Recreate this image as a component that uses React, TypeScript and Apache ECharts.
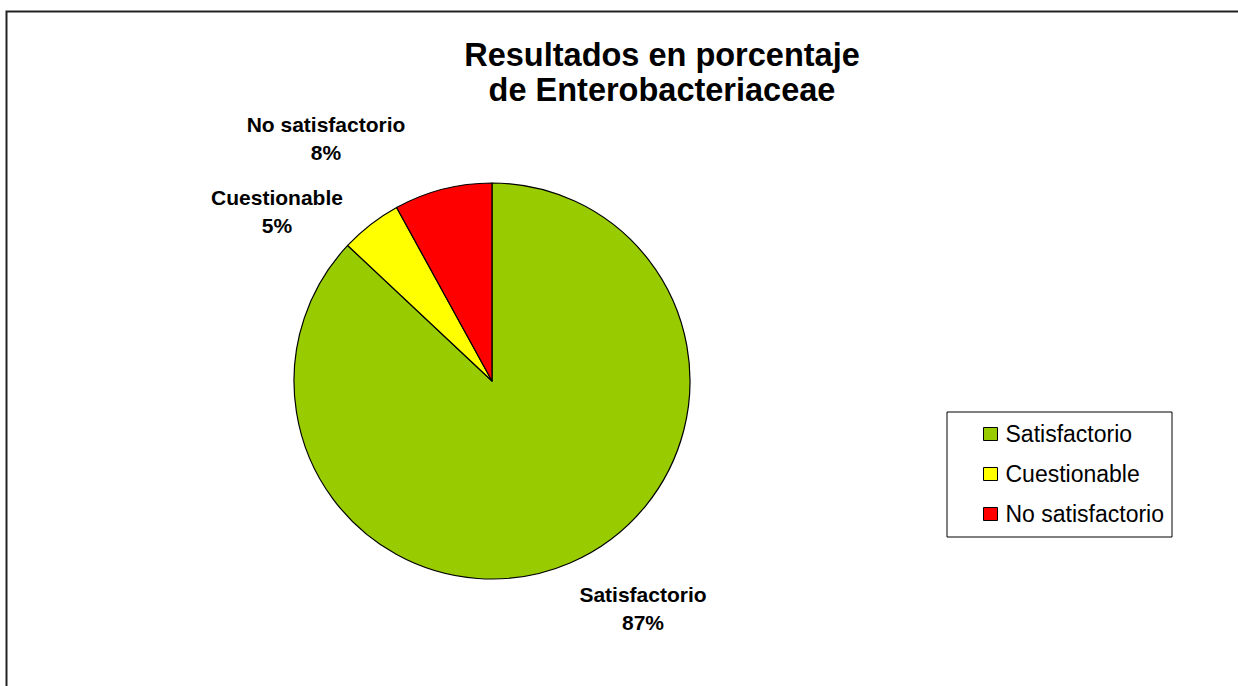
import React, { useEffect, useRef } from "react";
import * as echarts from "echarts";

const categories = ["Satisfactorio", "Cuestionable", "No satisfactorio"];
const values = [87, 5, 8];
const colors = ["#99CC00", "#FFFF00", "#FF0000"];
const titleLines = ["Resultados en porcentaje", "de Enterobacteriaceae"];

export default function App() {
  const ref = useRef<HTMLDivElement>(null);
  useEffect(() => {
    if (!ref.current) return;
    const chart = echarts.init(ref.current, null, { renderer: "svg" });
    const font = "'Liberation Sans', Arial, sans-serif";
    const labelPos: Record<number, [number, number]> = {
      0: [643, 608],
      1: [277, 211],
      2: [326, 138],
    };
    chart.setOption({
      animation: false,
      backgroundColor: "#ffffff",
      title: {
        text: titleLines.join("\n"),
        left: 657,
        top: 32,
        textAlign: "center",
        textStyle: {
          fontFamily: font,
          fontWeight: "bold",
          fontSize: 32.5,
          lineHeight: 35,
          color: "#000",
        },
      },
      legend: {
        orient: "vertical",
        left: 947,
        top: 412,
        padding: [10, 8, 11, 36],
        itemGap: 16,
        itemWidth: 14,
        itemHeight: 13,
        icon: "rect",
        borderColor: "#000",
        borderWidth: 1,
        borderRadius: 0,
        data: categories,
        itemStyle: { borderColor: "#000", borderWidth: 1 },
        textStyle: {
          fontFamily: font,
          fontSize: 23,
          lineHeight: 24,
          color: "#000",
          padding: [0, 0, 0, 3],
        },
      },
      graphic: [
        {
          type: "rect",
          shape: { x: 6.5, y: 11.5, width: 1300, height: 800 },
          style: { fill: "none", stroke: "#222", lineWidth: 2 },
          silent: true,
        },
      ],
      series: [
        {
          type: "pie",
          center: [492, 381],
          radius: 198,
          startAngle: 90,
          clockwise: true,
          percentPrecision: 0,
          data: categories.map((c, i) => ({
            name: c,
            value: values[i],
            itemStyle: { color: colors[i] },
          })),
          itemStyle: { borderColor: "#000", borderWidth: 1.2 },
          label: {
            show: true,
            position: "outside",
            formatter: "{b}\n{d}%",
            fontFamily: font,
            fontWeight: "bold",
            fontSize: 21,
            lineHeight: 28,
            color: "#000",
            align: "center",
          },
          labelLine: { show: false },
          labelLayout: (params: any) => {
            const p = labelPos[params.dataIndex];
            return { x: p[0], y: p[1], align: "center", verticalAlign: "middle" };
          },
          emphasis: { disabled: true },
        },
      ],
    });
    return () => chart.dispose();
  }, []);
  return (
    <div
      ref={ref}
      style={{ position: "absolute", left: 0, top: 0, width: 1238, height: 686, overflow: "hidden" }}
    />
  );
}
